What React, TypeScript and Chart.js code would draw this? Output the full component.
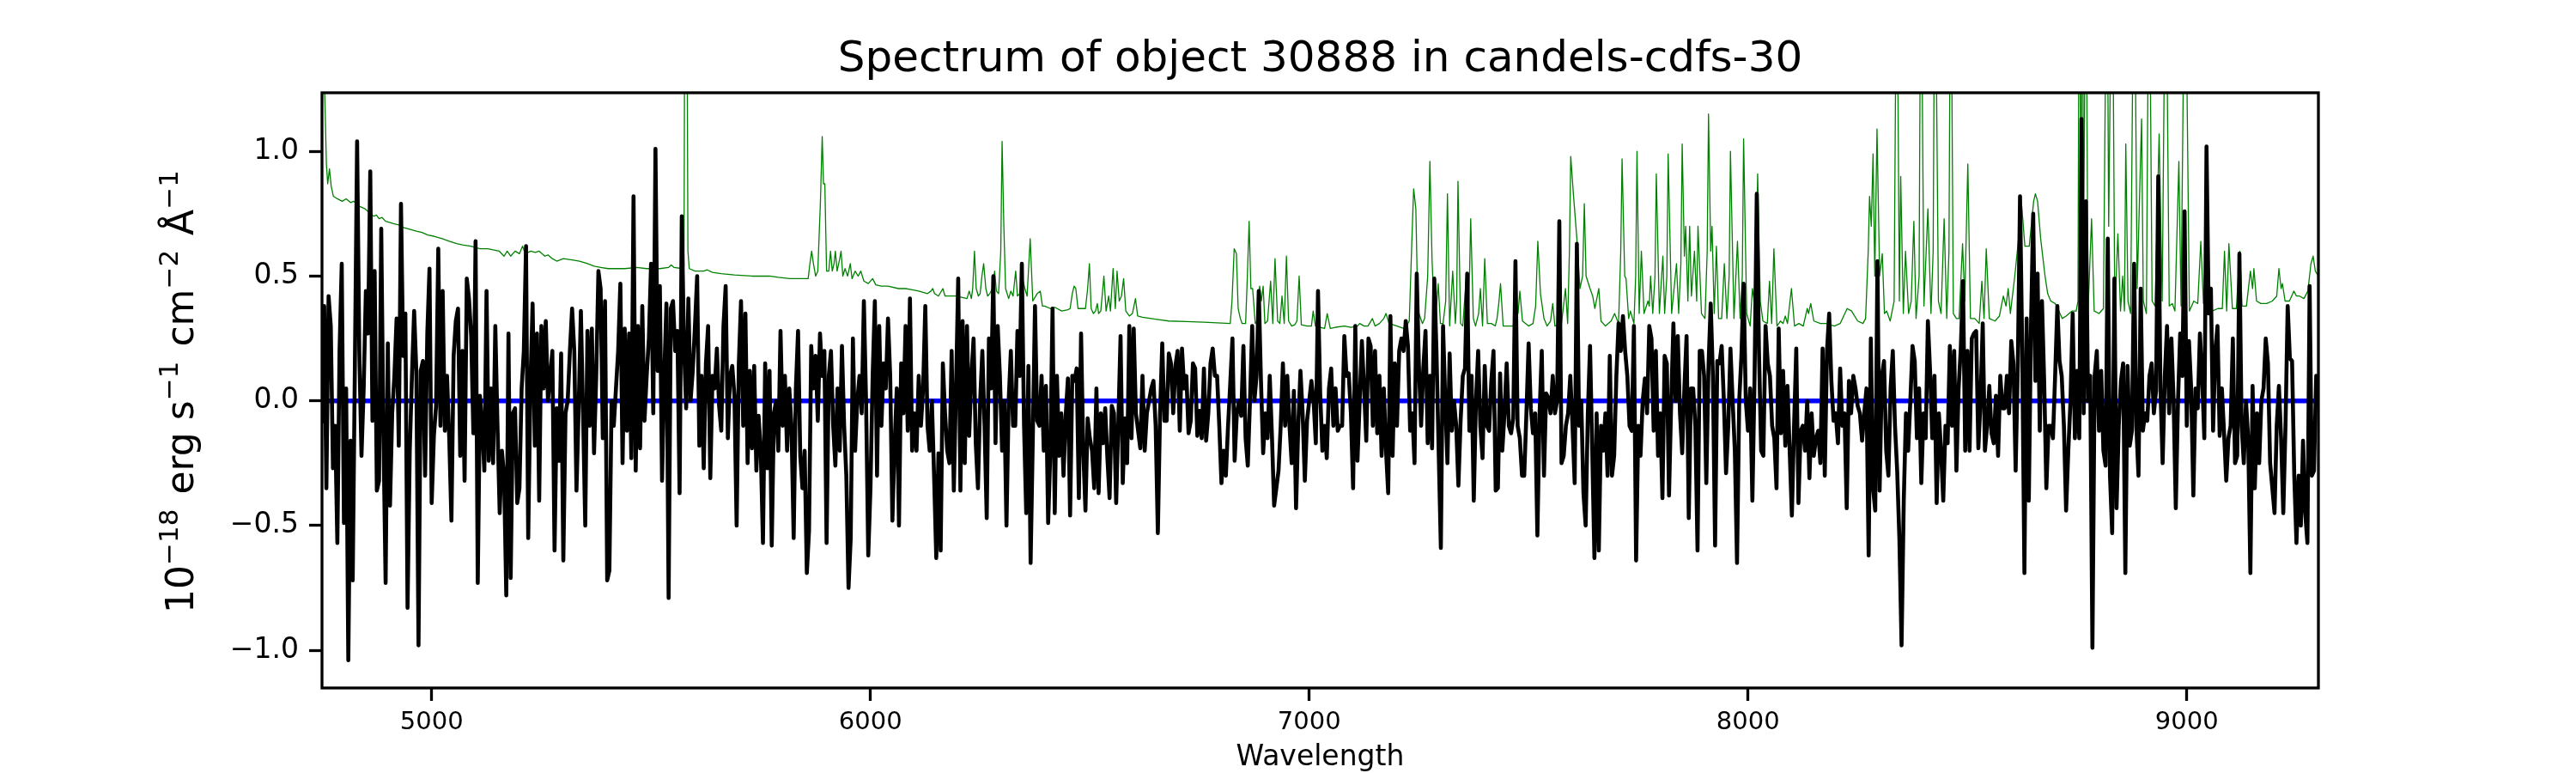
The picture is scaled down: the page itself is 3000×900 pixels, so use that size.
import { useEffect, useRef } from "react";
import { Chart, registerables } from "chart.js";

Chart.register(...registerables);

const FONT = "'DejaVu Sans', sans-serif";
const TITLE = "Spectrum of object 30888 in candels-cdfs-30";
const X_LABEL = "Wavelength";
// y label pieces: [text, isSuperscript]
const Y_LABEL: [string, boolean][] = [
    ["10", false], ["\u221218", true], [" erg s", false], ["\u22121", true],
    [" cm", false], ["\u22122", true], [" \u00c5", false], ["\u22121", true]
];

const xTickValues = [5000, 6000, 7000, 8000, 9000];
const yTickValues = [-1.0, -0.5, 0.0, 0.5, 1.0];

// object spectrum (black), 5 A bins
const specWave = [
    4750, 4755, 4760, 4765, 4770, 4775, 4780, 4785, 4790, 4795, 4800, 4805, 4810, 4815, 4820, 4825, 4830, 4835, 4840, 4845,
    4850, 4855, 4860, 4865, 4870, 4875, 4880, 4885, 4890, 4895, 4900, 4905, 4910, 4915, 4920, 4925, 4930, 4935, 4940, 4945,
    4950, 4955, 4960, 4965, 4970, 4975, 4980, 4985, 4990, 4995, 5000, 5005, 5010, 5015, 5020, 5025, 5030, 5035, 5040, 5045,
    5050, 5055, 5060, 5065, 5070, 5075, 5080, 5085, 5090, 5095, 5100, 5105, 5110, 5115, 5120, 5125, 5130, 5135, 5140, 5145,
    5150, 5155, 5160, 5165, 5170, 5175, 5180, 5185, 5190, 5195, 5200, 5205, 5210, 5215, 5220, 5225, 5230, 5235, 5240, 5245,
    5250, 5255, 5260, 5265, 5270, 5275, 5280, 5285, 5290, 5295, 5300, 5305, 5310, 5315, 5320, 5325, 5330, 5335, 5340, 5345,
    5350, 5355, 5360, 5365, 5370, 5375, 5380, 5385, 5390, 5395, 5400, 5405, 5410, 5415, 5420, 5425, 5430, 5435, 5440, 5445,
    5450, 5455, 5460, 5465, 5470, 5475, 5480, 5485, 5490, 5495, 5500, 5505, 5510, 5515, 5520, 5525, 5530, 5535, 5540, 5545,
    5550, 5555, 5560, 5565, 5570, 5575, 5580, 5585, 5590, 5595, 5600, 5605, 5610, 5615, 5620, 5625, 5630, 5635, 5640, 5645,
    5650, 5655, 5660, 5665, 5670, 5675, 5680, 5685, 5690, 5695, 5700, 5705, 5710, 5715, 5720, 5725, 5730, 5735, 5740, 5745,
    5750, 5755, 5760, 5765, 5770, 5775, 5780, 5785, 5790, 5795, 5800, 5805, 5810, 5815, 5820, 5825, 5830, 5835, 5840, 5845,
    5850, 5855, 5860, 5865, 5870, 5875, 5880, 5885, 5890, 5895, 5900, 5905, 5910, 5915, 5920, 5925, 5930, 5935, 5940, 5945,
    5950, 5955, 5960, 5965, 5970, 5975, 5980, 5985, 5990, 5995, 6000, 6005, 6010, 6015, 6020, 6025, 6030, 6035, 6040, 6045,
    6050, 6055, 6060, 6065, 6070, 6075, 6080, 6085, 6090, 6095, 6100, 6105, 6110, 6115, 6120, 6125, 6130, 6135, 6140, 6145,
    6150, 6155, 6160, 6165, 6170, 6175, 6180, 6185, 6190, 6195, 6200, 6205, 6210, 6215, 6220, 6225, 6230, 6235, 6240, 6245,
    6250, 6255, 6260, 6265, 6270, 6275, 6280, 6285, 6290, 6295, 6300, 6305, 6310, 6315, 6320, 6325, 6330, 6335, 6340, 6345,
    6350, 6355, 6360, 6365, 6370, 6375, 6380, 6385, 6390, 6395, 6400, 6405, 6410, 6415, 6420, 6425, 6430, 6435, 6440, 6445,
    6450, 6455, 6460, 6465, 6470, 6475, 6480, 6485, 6490, 6495, 6500, 6505, 6510, 6515, 6520, 6525, 6530, 6535, 6540, 6545,
    6550, 6555, 6560, 6565, 6570, 6575, 6580, 6585, 6590, 6595, 6600, 6605, 6610, 6615, 6620, 6625, 6630, 6635, 6640, 6645,
    6650, 6655, 6660, 6665, 6670, 6675, 6680, 6685, 6690, 6695, 6700, 6705, 6710, 6715, 6720, 6725, 6730, 6735, 6740, 6745,
    6750, 6755, 6760, 6765, 6770, 6775, 6780, 6785, 6790, 6795, 6800, 6805, 6810, 6815, 6820, 6825, 6830, 6835, 6840, 6845,
    6850, 6855, 6860, 6865, 6870, 6875, 6880, 6885, 6890, 6895, 6900, 6905, 6910, 6915, 6920, 6925, 6930, 6935, 6940, 6945,
    6950, 6955, 6960, 6965, 6970, 6975, 6980, 6985, 6990, 6995, 7000, 7005, 7010, 7015, 7020, 7025, 7030, 7035, 7040, 7045,
    7050, 7055, 7060, 7065, 7070, 7075, 7080, 7085, 7090, 7095, 7100, 7105, 7110, 7115, 7120, 7125, 7130, 7135, 7140, 7145,
    7150, 7155, 7160, 7165, 7170, 7175, 7180, 7185, 7190, 7195, 7200, 7205, 7210, 7215, 7220, 7225, 7230, 7235, 7240, 7245,
    7250, 7255, 7260, 7265, 7270, 7275, 7280, 7285, 7290, 7295, 7300, 7305, 7310, 7315, 7320, 7325, 7330, 7335, 7340, 7345,
    7350, 7355, 7360, 7365, 7370, 7375, 7380, 7385, 7390, 7395, 7400, 7405, 7410, 7415, 7420, 7425, 7430, 7435, 7440, 7445,
    7450, 7455, 7460, 7465, 7470, 7475, 7480, 7485, 7490, 7495, 7500, 7505, 7510, 7515, 7520, 7525, 7530, 7535, 7540, 7545,
    7550, 7555, 7560, 7565, 7570, 7575, 7580, 7585, 7590, 7595, 7600, 7605, 7610, 7615, 7620, 7625, 7630, 7635, 7640, 7645,
    7650, 7655, 7660, 7665, 7670, 7675, 7680, 7685, 7690, 7695, 7700, 7705, 7710, 7715, 7720, 7725, 7730, 7735, 7740, 7745,
    7750, 7755, 7760, 7765, 7770, 7775, 7780, 7785, 7790, 7795, 7800, 7805, 7810, 7815, 7820, 7825, 7830, 7835, 7840, 7845,
    7850, 7855, 7860, 7865, 7870, 7875, 7880, 7885, 7890, 7895, 7900, 7905, 7910, 7915, 7920, 7925, 7930, 7935, 7940, 7945,
    7950, 7955, 7960, 7965, 7970, 7975, 7980, 7985, 7990, 7995, 8000, 8005, 8010, 8015, 8020, 8025, 8030, 8035, 8040, 8045,
    8050, 8055, 8060, 8065, 8070, 8075, 8080, 8085, 8090, 8095, 8100, 8105, 8110, 8115, 8120, 8125, 8130, 8135, 8140, 8145,
    8150, 8155, 8160, 8165, 8170, 8175, 8180, 8185, 8190, 8195, 8200, 8205, 8210, 8215, 8220, 8225, 8230, 8235, 8240, 8245,
    8250, 8255, 8260, 8265, 8270, 8275, 8280, 8285, 8290, 8295, 8300, 8305, 8310, 8315, 8320, 8325, 8330, 8335, 8340, 8345,
    8350, 8355, 8360, 8365, 8370, 8375, 8380, 8385, 8390, 8395, 8400, 8405, 8410, 8415, 8420, 8425, 8430, 8435, 8440, 8445,
    8450, 8455, 8460, 8465, 8470, 8475, 8480, 8485, 8490, 8495, 8500, 8505, 8510, 8515, 8520, 8525, 8530, 8535, 8540, 8545,
    8550, 8555, 8560, 8565, 8570, 8575, 8580, 8585, 8590, 8595, 8600, 8605, 8610, 8615, 8620, 8625, 8630, 8635, 8640, 8645,
    8650, 8655, 8660, 8665, 8670, 8675, 8680, 8685, 8690, 8695, 8700, 8705, 8710, 8715, 8720, 8725, 8730, 8735, 8740, 8745,
    8750, 8755, 8760, 8765, 8770, 8775, 8780, 8785, 8790, 8795, 8800, 8805, 8810, 8815, 8820, 8825, 8830, 8835, 8840, 8845,
    8850, 8855, 8860, 8865, 8870, 8875, 8880, 8885, 8890, 8895, 8900, 8905, 8910, 8915, 8920, 8925, 8930, 8935, 8940, 8945,
    8950, 8955, 8960, 8965, 8970, 8975, 8980, 8985, 8990, 8995, 9000, 9005, 9010, 9015, 9020, 9025, 9030, 9035, 9040, 9045,
    9050, 9055, 9060, 9065, 9070, 9075, 9080, 9085, 9090, 9095, 9100, 9105, 9110, 9115, 9120, 9125, 9130, 9135, 9140, 9145,
    9150, 9155, 9160, 9165, 9170, 9175, 9180, 9185, 9190, 9195, 9200, 9205, 9210, 9215, 9220, 9225, 9230, 9235, 9240, 9245,
    9250, 9255, 9260, 9265, 9270, 9275, 9280, 9285, 9290, 9295, 9300
];

const specFlux = [
    // 4750 - 5570
    -0.09, 0.38, -0.35, 0.42, 0.3, -0.27, -0.1, -0.57, 0.2, 0.55,
    -0.49, 0.05, -1.04, -0.16, -0.72, 0.15, 1.04, 0.2, -0.22, 0.05, 0.44,
    0.27, 0.92, -0.08, 0.52, -0.36, -0.32, 0.69, -0.13, -0.73, 0.23,
    -0.42, -0.05, 0.1, 0.33, -0.18, 0.79, 0.18, 0.35, -0.83, -0.2, 0.1,
    0.36, 0.12, -0.98, 0.12, 0.16, -0.3, 0.27, 0.53, -0.41, -0.14,
    -0.02, 0.61, -0.1, 0.44, -0.12, 0.1, -0.15, -0.48, 0.18, 0.32, 0.37,
    -0.22, 0.2, -0.32, 0.49, 0.41, 0.26, -0.13, 0.64, -0.73, 0.02,
    -0.1, -0.28, 0.44, -0.24, 0.05, -0.25, 0.3, -0.1, -0.45, -0.2, -0.3,
    -0.78, 0.27, -0.71, -0.05, -0.03, -0.41, -0.35, 0.05, 0.2, 0.62,
    -0.55, 0.06, 0.39, -0.18, 0.27, -0.4, 0.3, 0.05, 0.32, 0.0, 0.1,
    0.2, -0.6, -0.03, -0.24, 0.19, -0.64, -0.05, 0.0, 0.2, 0.37,
    0.2, -0.36, -0.03, 0.36, -0.05, -0.5, 0.28, -0.1, 0.29, -0.21, 0.1,
    0.52, 0.45, -0.15, 0.4, -0.72, -0.68, 0.0, -0.1, 0.05, 0.2, 0.47,
    -0.25, 0.29, -0.12, 0.27, -0.23, 0.82, -0.28, 0.3, -0.19, 0.38,
    -0.08, 0.1, 0.25, 0.55, -0.05, 1.01, 0.12, 0.46, -0.32, 0.1, 0.39,
    -0.79, 0.37, 0.4, 0.2, 0.28, -0.37, 0.74,
    // 5575 - 6325
    0.22, -0.03, 0.41, 0.0, 0.12, 0.3, 0.5, -0.18, 0.1, -0.27,
    0.15, 0.3, -0.31, 0.1, 0.05, 0.21, -0.02, -0.12, 0.3, 0.46,
    -0.15, 0.1, 0.14, 0.02, -0.5,
    0.15, 0.4, -0.1, 0.35, -0.25, 0.12, -0.19, 0.14, -0.28, -0.06, -0.2, -0.57,
    0.15, -0.27, 0.12, -0.58, -0.05, 0.0, -0.2, 0.28, -0.1, 0.1, -0.2, 0.05, -0.1, -0.55,
    0.05, 0.28, -0.22, -0.35, -0.2, -0.69,
    -0.52, 0.22, 0.05, 0.18, -0.08, 0.27, 0.1, 0.2, -0.57,
    0.1, 0.2, -0.1, -0.26, 0.05, -0.2, 0.22, -0.1, -0.3, -0.75,
    -0.55, 0.25, -0.2, 0.0, 0.1, -0.05, 0.4, 0.0, -0.62,
    -0.35, 0.1, 0.4, -0.3, 0.3, -0.1, 0.15, 0.05, 0.33, 0.1, -0.48,
    -0.18, 0.05, -0.5,
    0.15, -0.05, 0.3, -0.12, 0.41, -0.2, -0.05, -0.2, 0.1, -0.1, 0.05, 0.38, -0.1, -0.2, 0.0, -0.3, -0.63,
    -0.21, -0.6,
    0.15, -0.05, -0.2, -0.25, 0.2, -0.36, 0.05, 0.49,
    -0.36, 0.32, -0.25, 0.3, -0.14, 0.1, 0.25, -0.17, -0.35, 0.0, 0.2, -0.1, -0.47,
    0.25, 0.05, 0.5,
    -0.17, 0.3, 0.1, -0.2, 0.0, -0.5,
    0.0, 0.2, -0.1,
    // 6330 - 7100
    -0.1, 0.28, 0.1, 0.55, -0.1, -0.45, 0.14, -0.65, -0.15, 0.38,
    -0.08, -0.1, 0.1, -0.2, 0.06, -0.49, -0.2, 0.37, -0.45,
    0.1, -0.22, -0.05, -0.3, -0.06, 0.09, -0.46, 0.1, 0.08, 0.13,
    -0.39, 0.27, -0.2, -0.44, -0.07, -0.15, -0.2, -0.35, 0.05,
    -0.37, -0.05, -0.17, -0.03, -0.23, -0.39, -0.02, -0.05, -0.41, -0.08,
    0.26, -0.33, -0.07, -0.25, 0.3, -0.15, 0.29, -0.05, -0.12, -0.19,
    0.1, -0.2, -0.05, 0.0, 0.05, 0.08, -0.1, -0.53, -0.05, 0.23,
    -0.08, -0.08, 0.19, 0.15, -0.05, 0.14, 0.2, -0.12, 0.21,
    0.05, 0.1, -0.13, -0.08, 0.15, 0.13, -0.14, -0.04, -0.15, 0.13,
    -0.16, -0.05, 0.15, 0.21, 0.1, 0.1, -0.1, -0.33, -0.2, -0.3,
    -0.1, 0.07, 0.25, -0.24, -0.05, 0.0, -0.06, 0.22, -0.15,
    -0.26, 0.0, 0.3, 0.0, 0.1, 0.44, 0.08, -0.21, -0.05,
    -0.15, 0.1, -0.14, -0.42, -0.35, -0.28, -0.1, 0.15, -0.1, 0.1,
    -0.1, -0.25, 0.04, -0.43, -0.1, 0.12, -0.05, -0.32, -0.08, 0.0,
    0.08, 0.0, -0.17, 0.44, 0.03, -0.2, -0.1, -0.23, 0.05, 0.13,
    -0.1, 0.05, -0.12, -0.1, -0.1, 0.26, 0.1, 0.11, -0.05, -0.35,
    // 7105 - 7890
    0.3, -0.24, 0.0, 0.24, 0.05, -0.16, 0.25, 0.22, -0.1, 0.2,
    -0.13, 0.1, -0.22, 0.05, -0.2, -0.37, 0.34, -0.22, 0.15, -0.1,
    0.2, 0.25, 0.2, 0.32, 0.22, -0.12, -0.05, -0.25, 0.51, 0.14,
    -0.1, 0.13, 0.28, -0.17, 0.1, -0.19, 0.49, 0.2, -0.2, -0.59,
    0.3, 0.0, -0.25, 0.19, -0.12, 0.0, -0.1, -0.34, -0.08, 0.1,
    0.13, 0.51, -0.12, 0.1, -0.4, 0.0, 0.2, -0.1, -0.23, 0.14,
    -0.1, -0.12, 0.08, 0.2, -0.36, -0.35, 0.11, -0.2, -0.05, 0.15,
    -0.1, -0.13, -0.07, 0.56, -0.1, -0.15, -0.3, -0.3, -0.05, 0.23,
    -0.03, -0.13, -0.05, -0.54, -0.05, 0.2, -0.3, 0.03, 0.01, -0.05,
    0.1, -0.05, 0.0, 0.72,
    -0.25, -0.22, -0.1, -0.05, 0.1, -0.1, -0.33, 0.63, -0.1, 0.0,
    -0.37, -0.5, -0.05, 0.22, -0.2, -0.63, -0.05, -0.6, -0.1, -0.2,
    -0.05, -0.3, 0.18, -0.3, -0.22, 0.1, 0.31, 0.2, 0.34, 0.2,
    0.1, -0.1, -0.12, 0.3, -0.64, -0.1, -0.22, 0.0, 0.09, -0.05,
    0.3, 0.25, -0.12, 0.2, -0.22, -0.05, -0.39, 0.18, 0.15, -0.38,
    0.0, 0.31, 0.0, 0.26, -0.05, -0.21, 0.05, 0.26, -0.47, 0.05,
    0.05, -0.1, -0.6, 0.2,
    // 7895 - 8495
    0.2, 0.1, -0.33, 0.14, 0.39, 0.1, -0.58, 0.16, 0.15, 0.22,
    0.0, -0.29, -0.1, 0.21, 0.0, -0.2, -0.65, 0.0, 0.18, 0.47,
    0.0, -0.12, 0.05, -0.4, 0.1, 0.83, 0.2, -0.2, -0.22, 0.3,
    0.15, 0.1, -0.1, -0.15, -0.35, 0.29, -0.13, 0.12, -0.18, 0.06,
    -0.2, -0.46, -0.1, 0.21, -0.41, -0.12, -0.1, -0.2, 0.0, -0.31,
    -0.05, -0.22, -0.15, -0.12, -0.25, 0.21, -0.3, 0.2, 0.35, 0.08,
    -0.08, -0.05, -0.17, 0.13, -0.1, -0.05, -0.43, 0.08, -0.05, 0.1,
    0.05, -0.02, -0.05, -0.16, -0.05, 0.05, -0.62, 0.25, -0.35, -0.44,
    0.56, -0.36, 0.1, 0.16, -0.2, -0.3, 0.05, 0.2, -0.1, -0.28,
    -0.55, -0.98, -0.4, -0.05, -0.2, 0.0, 0.22, 0.16, -0.15, 0.05,
    -0.33, -0.05, -0.15, 0.32, 0.12, -0.15, 0.1, -0.41, -0.05, -0.2,
    -0.4, -0.1, -0.17, 0.22, -0.1, 0.2, -0.28, 0.05, 0.21, 0.48,
    -0.2,
    // 8500 - 9300
    0.2, -0.2, 0.25, 0.27, 0.28, -0.19, 0.0, 0.31, -0.2, -0.1,
    0.06, -0.13, -0.17, 0.02, -0.22, 0.1, -0.03, -0.03, 0.1, -0.05,
    0.24, 0.15, -0.28, 0.15, 0.82, 0.2, -0.69, 0.33, -0.4, 0.3,
    0.75, 0.08, 0.51, -0.12, 0.4, 0.08, -0.35, -0.1, -0.1, -0.15,
    0.1, 0.38, 0.16, 0.1, -0.1, -0.44, -0.2, 0.0, 0.35, -0.15,
    0.12, -0.15, 1.13, -0.05, 0.8, 0.0, 0.1, -0.99, 0.1, 0.2,
    -0.12, 0.12, -0.2, -0.26, 0.65, -0.3, -0.53, 0.49, -0.43, -0.1,
    0.08, 0.15, -0.69, 0.14, -0.18, -0.12, 0.55, -0.1, -0.3, 0.45,
    -0.12, -0.05, -0.08, 0.1, 0.15, -0.05, 0.04, 0.9, 0.05, -0.25,
    0.1, 0.3, -0.05, 0.25, 0.0, -0.43, 0.0, 0.27, 0.1, 0.76,
    -0.1, 0.24, 0.05, -0.38, 0.05, -0.03, 0.27, 0.1, -0.15, 1.02,
    0.35, 0.45, -0.12, 0.2, 0.3, -0.14, 0.05, -0.13, -0.32, -0.15,
    -0.1, 0.25, -0.25, -0.22, 0.59, -0.1, -0.25, 0.0, -0.15, -0.69,
    0.06, -0.35, -0.05, -0.25, 0.0, 0.05, 0.25, 0.15, -0.25, -0.35,
    -0.45, -0.1, 0.06, -0.15, -0.45, -0.1, 0.38, 0.17, 0.16, -0.3,
    -0.57, -0.3, -0.5, -0.16, -0.45, -0.57, 0.46, -0.3, -0.28, 0.1,
    0.08
];

// sky spectrum (green)
const skyWave = [
    4750, 4756, 4760, 4763, 4767, 4771, 4776, 4785, 4796, 4805, 4815, 4822, 4835, 4848, 4860, 4868, 4874, 4880, 4887, 4895,
    4905, 4913, 4925, 4935, 4946, 4955, 4965, 4978, 4991, 5005, 5024, 5040, 5057, 5070, 5089, 5110, 5128, 5140, 5154, 5165,
    5172, 5180, 5190, 5200, 5207, 5213, 5226, 5236, 5245, 5258, 5265, 5275, 5285, 5300, 5320, 5337, 5355, 5370, 5385, 5402,
    5425, 5440, 5467, 5490, 5520, 5540, 5546, 5552, 5572, 5575, 5577, 5580, 5584, 5587, 5600, 5620, 5628, 5640, 5660, 5690,
    5730, 5770, 5790, 5816, 5858, 5862, 5866, 5870, 5875, 5880, 5886, 5890, 5893, 5896, 5900, 5905, 5909, 5913, 5917, 5920,
    5924, 5930, 5933, 5937, 5942, 5948, 5954, 5958, 5965, 5972, 5978, 5985, 5995, 6005, 6012, 6025, 6040, 6064, 6080, 6095,
    6110, 6130, 6138, 6142, 6146, 6155, 6165, 6170, 6195, 6220, 6225, 6230, 6233, 6237, 6241, 6246, 6250, 6254, 6258, 6263,
    6267, 6272, 6278, 6283, 6287, 6292, 6297, 6300, 6304, 6308, 6315, 6320, 6325, 6331, 6335, 6340, 6348, 6352, 6357, 6364,
    6370, 6380, 6387, 6392, 6397, 6410, 6420, 6436, 6450, 6455, 6460, 6464, 6468, 6473, 6490, 6495, 6499, 6503, 6508, 6513,
    6517, 6520, 6525, 6532, 6537, 6543, 6547, 6553, 6558, 6562, 6567, 6572, 6577, 6582, 6590, 6597, 6604, 6609, 6620, 6640,
    6660, 6680, 6720, 6760, 6800, 6820, 6824, 6829, 6834, 6838, 6843, 6847, 6855, 6859, 6863, 6867, 6871, 6877, 6881, 6887,
    6891, 6895, 6899, 6905, 6912, 6917, 6922, 6928, 6933, 6938, 6943, 6948, 6953, 6960, 6967, 6972, 6977, 6982, 6995, 7005,
    7009, 7014, 7025, 7035, 7041, 7048, 7060, 7080, 7095, 7110, 7115, 7125, 7134, 7144, 7150, 7160, 7170, 7175, 7182, 7200,
    7215, 7222, 7228, 7235, 7238, 7243, 7246, 7250, 7258, 7263, 7270, 7275, 7280, 7284, 7288, 7294, 7299, 7305, 7311, 7315,
    7320, 7327, 7333, 7336, 7339, 7345, 7350, 7358, 7363, 7368, 7374, 7379, 7386, 7390, 7395, 7400, 7406, 7415, 7424, 7428,
    7432, 7436, 7442, 7465, 7470, 7476, 7480, 7486, 7500, 7510, 7516, 7521, 7527, 7535, 7542, 7550, 7555, 7560, 7575, 7584,
    7589, 7593, 7596, 7602, 7610, 7617, 7623, 7627, 7631, 7640, 7646, 7651, 7660, 7665, 7675, 7688, 7696, 7705, 7710, 7713,
    7719, 7722, 7728, 7732, 7740, 7744, 7747, 7752, 7757, 7763, 7772, 7775, 7778, 7783, 7788, 7791, 7798, 7806, 7810, 7815,
    7818, 7826, 7837, 7842, 7847, 7850, 7855, 7858, 7863, 7867, 7871, 7878, 7883, 7886, 7894, 7902, 7907, 7910, 7915, 7918,
    7923, 7928, 7933, 7940, 7946, 7952, 7957, 7960, 7968, 7976, 7982, 7987, 7990, 7997, 8005, 8010, 8014, 8019, 8022, 8028,
    8034, 8044, 8049, 8054, 8059, 8066, 8074, 8080, 8085, 8090, 8099, 8106, 8116, 8126, 8135, 8138, 8143, 8150, 8165, 8178,
    8197, 8210, 8226, 8236, 8250, 8262, 8268, 8274, 8277, 8281, 8285, 8289, 8294, 8300, 8306, 8311, 8316, 8324, 8333, 8339,
    8345, 8348, 8354, 8359, 8366, 8372, 8378, 8383, 8390, 8394, 8401, 8410, 8417, 8422, 8426, 8434, 8440, 8447, 8453, 8458,
    8462, 8468, 8475, 8481, 8489, 8494, 8501, 8507, 8517, 8527, 8533, 8538, 8543, 8550, 8563, 8573, 8582, 8588, 8593, 8598,
    8608, 8624, 8631, 8641, 8651, 8655, 8660, 8667, 8677, 8683, 8690, 8700, 8706, 8716, 8725, 8738, 8748, 8752, 8755, 8759,
    8762, 8765, 8770, 8775, 8783, 8789, 8800, 8810, 8818, 8822, 8830, 8836, 8843, 8849, 8854, 8858, 8861, 8866, 8872, 8880,
    8887, 8897, 8901, 8908, 8914, 8921, 8928, 8937, 8944, 8952, 8960, 8967, 8973, 8982, 8987, 8996, 9006, 9016, 9025, 9032,
    9038, 9051, 9058, 9071, 9081, 9086, 9091, 9096, 9104, 9113, 9121, 9126, 9136, 9145, 9150, 9153, 9159, 9169, 9182, 9195,
    9205, 9210, 9215, 9218, 9224, 9234, 9244, 9250, 9257, 9267, 9276, 9283, 9288, 9293, 9300
];

const skyFlux = [
    1.6, 1.25, 0.95, 0.87, 0.93, 0.86, 0.82, 0.81, 0.8, 0.81, 0.795, 0.8, 0.78, 0.77, 0.75, 0.74, 0.745, 0.73, 0.735, 0.72,
    0.715, 0.71, 0.705, 0.695, 0.69, 0.685, 0.68, 0.675, 0.665, 0.66, 0.65, 0.64, 0.63, 0.625, 0.62, 0.61, 0.61, 0.605, 0.6, 0.58,
    0.6, 0.58, 0.6, 0.59, 0.62, 0.59, 0.6, 0.595, 0.6, 0.58, 0.585, 0.57, 0.56, 0.57, 0.565, 0.56, 0.55, 0.54, 0.535, 0.53,
    0.53, 0.53, 0.535, 0.53, 0.53, 0.535, 0.545, 0.535, 0.53, 0.54, 1.8, 2.5, 0.6, 0.53, 0.52, 0.52, 0.525, 0.515, 0.51, 0.505,
    0.5, 0.5, 0.495, 0.49, 0.49, 0.55, 0.6, 0.55, 0.5, 0.52, 0.8, 1.06, 0.87, 0.87, 0.52, 0.52, 0.6, 0.52, 0.55, 0.6,
    0.52, 0.57, 0.6, 0.5, 0.53, 0.5, 0.55, 0.49, 0.52, 0.5, 0.52, 0.48, 0.47, 0.49, 0.465, 0.46, 0.46, 0.45, 0.45, 0.445,
    0.44, 0.43, 0.44, 0.45, 0.43, 0.42, 0.45, 0.42, 0.42, 0.41, 0.44, 0.41, 0.45, 0.6, 0.45, 0.42, 0.43, 0.5, 0.55, 0.45,
    0.42, 0.43, 0.45, 0.52, 0.44, 0.43, 0.6, 1.04, 0.7, 0.45, 0.41, 0.44, 0.42, 0.52, 0.42, 0.43, 0.48, 0.45, 0.42, 0.65,
    0.4, 0.43, 0.44, 0.38, 0.38, 0.37, 0.375, 0.36, 0.365, 0.37, 0.43, 0.46, 0.45, 0.37, 0.37, 0.45, 0.55, 0.37, 0.35, 0.36,
    0.39, 0.35, 0.36, 0.5, 0.36, 0.42, 0.36, 0.53, 0.37, 0.52, 0.4, 0.42, 0.49, 0.36, 0.34, 0.35, 0.41, 0.34, 0.335, 0.33,
    0.325, 0.32, 0.318, 0.315, 0.312, 0.31, 0.4, 0.61, 0.59, 0.37, 0.33, 0.31, 0.31, 0.5, 0.72, 0.45, 0.45, 0.31, 0.32, 0.46,
    0.4, 0.46, 0.31, 0.32, 0.48, 0.31, 0.57, 0.32, 0.31, 0.42, 0.31, 0.58, 0.32, 0.3, 0.305, 0.32, 0.5, 0.305, 0.3, 0.3,
    0.36, 0.3, 0.295, 0.29, 0.35, 0.29, 0.295, 0.3, 0.295, 0.3, 0.31, 0.3, 0.3, 0.33, 0.3, 0.31, 0.33, 0.35, 0.31, 0.3,
    0.29, 0.3, 0.32, 0.7, 0.85, 0.77, 0.5, 0.35, 0.31, 0.33, 0.5, 0.96, 0.56, 0.4, 0.33, 0.47, 0.31, 0.31, 0.4, 0.83,
    0.3, 0.52, 0.31, 0.4, 0.88, 0.31, 0.3, 0.5, 0.31, 0.73, 0.33, 0.3, 0.35, 0.45, 0.3, 0.57, 0.31, 0.31, 0.3, 0.33,
    0.39, 0.47, 0.3, 0.3, 0.37, 0.35, 0.44, 0.32, 0.3, 0.31, 0.38, 0.64, 0.43, 0.33, 0.3, 0.32, 0.39, 0.3, 0.31, 0.45,
    0.31, 0.6, 0.98, 0.83, 0.65, 0.45, 0.5, 0.79, 0.5, 0.45, 0.42, 0.37, 0.45, 0.32, 0.3, 0.32, 0.35, 0.31, 0.6, 0.97,
    0.5, 0.49, 0.33, 0.36, 0.31, 0.5, 1.0, 0.35, 0.6, 0.35, 0.4, 0.38, 0.5, 0.35, 0.5, 0.91, 0.35, 0.58, 0.35, 0.5,
    0.99, 0.35, 0.55, 0.35, 0.55, 1.03, 0.58, 0.7, 0.4, 0.7, 0.42, 0.6, 0.4, 0.7, 0.35, 0.33, 0.6, 1.15, 0.6, 0.7,
    0.35, 0.62, 0.33, 0.33, 0.55, 0.33, 0.5, 1.0, 0.33, 0.64, 0.33, 0.5, 1.05, 0.35, 0.3, 0.45, 0.4, 0.6, 0.91, 0.4,
    0.32, 0.31, 0.48, 0.31, 0.61, 0.3, 0.32, 0.31, 0.34, 0.31, 0.45, 0.3, 0.31, 0.3, 0.37, 0.35, 0.39, 0.32, 0.31, 0.31,
    0.3, 0.31, 0.37, 0.36, 0.32, 0.31, 0.33, 0.6, 0.82, 0.7, 0.99, 0.5, 1.09, 0.5, 0.59, 0.35, 0.36, 0.32, 0.4, 2.0,
    0.4, 0.9, 0.35, 0.6, 0.35, 0.4, 0.72, 0.33, 0.5, 2.0, 0.38, 0.77, 0.35, 0.6, 2.0, 0.4, 0.35, 0.73, 0.33, 0.6,
    2.0, 0.35, 0.33, 0.33, 0.63, 0.4, 0.95, 0.33, 0.33, 0.31, 0.48, 0.33, 0.61, 0.33, 0.32, 0.34, 0.42, 0.38, 0.45, 0.35,
    0.5, 0.78, 0.62, 0.62, 0.8, 0.83, 0.8, 0.65, 0.5, 0.43, 0.4, 0.39, 0.37, 0.33, 0.34, 0.36, 0.36, 0.4, 2.0, 0.7,
    2.0, 0.6, 2.0, 0.36, 0.73, 0.36, 0.35, 0.37, 2.0, 0.7, 2.0, 0.35, 0.67, 0.36, 0.5, 0.36, 1.03, 0.4, 0.35, 2.0,
    0.45, 1.13, 0.4, 0.35, 2.0, 0.4, 0.38, 1.07, 0.4, 2.0, 0.38, 0.39, 0.36, 0.96, 0.38, 2.0, 0.36, 0.4, 0.39, 0.64,
    0.39, 0.39, 0.36, 0.37, 0.37, 0.6, 0.36, 0.63, 0.37, 0.37, 0.6, 0.38, 0.38, 0.52, 0.45, 0.53, 0.4, 0.39, 0.39, 0.4,
    0.42, 0.53, 0.45, 0.47, 0.4, 0.4, 0.44, 0.42, 0.42, 0.41, 0.44, 0.55, 0.58, 0.52, 0.5
];

// zero level (blue)
const zeroWave = [4750, 9300];
const zeroFlux = [0, 0];

const pairs = (xs: number[], ys: number[]) => xs.map((x, i) => ({ x, y: ys[i] }));

const fmtY = (v: number) => Number(v).toFixed(1).replace("-", "\u2212");

const framePlugin = {
    id: "frame",
    afterDatasetsDraw(chart: Chart) {
        const { ctx, chartArea: a } = chart;
        ctx.save();
        ctx.strokeStyle = "#000";
        ctx.lineWidth = 3.3;
        ctx.strokeRect(a.left, a.top, a.right - a.left, a.bottom - a.top);
        ctx.restore();
    }
};

const labelsPlugin = {
    id: "labels",
    afterDraw(chart: Chart) {
        const { ctx, chartArea: a } = chart;
        const cx = (a.left + a.right) / 2;
        ctx.save();
        ctx.fillStyle = "#000";
        ctx.textBaseline = "alphabetic";
        ctx.textAlign = "center";
        ctx.font = `50px ${FONT}`;
        ctx.fillText(TITLE, cx, a.top - 25);
        ctx.font = `33px ${FONT}`;
        ctx.fillText(X_LABEL, cx, a.bottom + 90);

        // rotated y label with superscripts
        const mainFont = `44px ${FONT}`;
        const supFont = `31px ${FONT}`;
        let total = 0;
        for (const [txt, sup] of Y_LABEL) {
            ctx.font = sup ? supFont : mainFont;
            total += ctx.measureText(txt).width + (sup ? 3 : 0);
        }
        ctx.translate(225, (a.top + a.bottom) / 2);
        ctx.rotate(-Math.PI / 2);
        ctx.textAlign = "left";
        let x = -total / 2;
        for (const [txt, sup] of Y_LABEL) {
            ctx.font = sup ? supFont : mainFont;
            ctx.fillText(txt, x, sup ? -18 : 0);
            x += ctx.measureText(txt).width + (sup ? 3 : 0);
        }
        ctx.restore();
    }
};

export default function App() {
    const canvasRef = useRef<HTMLCanvasElement>(null);

    useEffect(() => {
        const canvas = canvasRef.current;
        if (!canvas) return;

        const chart = new Chart(canvas, {
            type: "line",
            data: {
                datasets: [
                    {
                        label: "flux",
                        data: pairs(specWave, specFlux),
                        borderColor: "#000000",
                        borderWidth: 4.6,
                        borderJoinStyle: "round",
                        pointRadius: 0,
                        tension: 0,
                        clip: 0
                    },
                    {
                        label: "zero",
                        data: pairs(zeroWave, zeroFlux),
                        borderColor: "#0000ff",
                        borderWidth: 5.4,
                        pointRadius: 0,
                        tension: 0,
                        clip: 0
                    },
                    {
                        label: "sky",
                        data: pairs(skyWave, skyFlux),
                        borderColor: "#008000",
                        borderWidth: 1.3,
                        borderJoinStyle: "round",
                        pointRadius: 0,
                        tension: 0,
                        clip: 0
                    }
                ]
            },
            options: {
                responsive: false,
                devicePixelRatio: 1,
                animation: false,
                events: [],
                layout: { padding: { top: 108, right: 300, bottom: 0, left: 0 } },
                scales: {
                    x: {
                        type: "linear",
                        position: "bottom",
                        min: 4750,
                        max: 9300,
                        bounds: "data",
                        afterFit: (s: any) => { s.height = 99; },
                        afterBuildTicks: (s: any) => { s.ticks = xTickValues.map(v => ({ value: v })); },
                        ticks: {
                            color: "#000",
                            font: { family: FONT, size: 29 },
                            padding: 8,
                            maxRotation: 0,
                            autoSkip: false,
                            callback: (v: any) => String(v)
                        },
                        grid: {
                            drawOnChartArea: false,
                            drawTicks: true,
                            tickLength: 15,
                            tickWidth: 3.3,
                            tickColor: "#000"
                        },
                        border: { display: false }
                    },
                    y: {
                        type: "linear",
                        position: "left",
                        min: -1.151,
                        max: 1.235,
                        bounds: "data",
                        afterFit: (s: any) => { s.width = 375; },
                        afterBuildTicks: (s: any) => { s.ticks = yTickValues.map(v => ({ value: v })); },
                        ticks: {
                            color: "#000",
                            font: { family: FONT, size: 33 },
                            padding: 12,
                            autoSkip: false,
                            callback: (v: any) => fmtY(v)
                        },
                        grid: {
                            drawOnChartArea: false,
                            drawTicks: true,
                            tickLength: 15,
                            tickWidth: 3.3,
                            tickColor: "#000"
                        },
                        border: { display: false }
                    }
                },
                plugins: {
                    legend: { display: false },
                    tooltip: { enabled: false },
                    title: { display: false }
                }
            },
            plugins: [framePlugin, labelsPlugin]
        });

        return () => chart.destroy();
    }, []);

    return (
        <div style={{ position: "absolute", left: 0, top: 0, width: 3000, height: 900, background: "#fff" }}>
            <canvas ref={canvasRef} width={3000} height={900} style={{ display: "block" }} />
        </div>
    );
}
